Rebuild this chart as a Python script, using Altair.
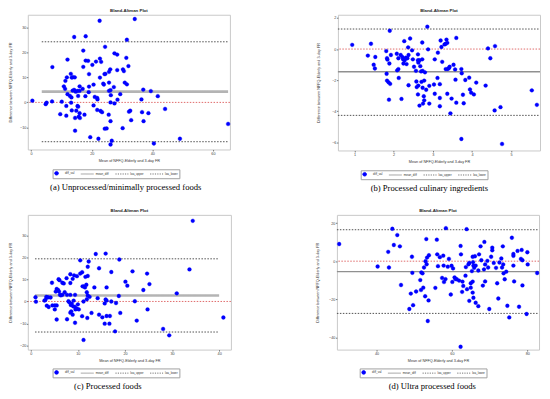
import altair as alt
import pandas as pd

SERIES = ["diff_val", "mean_diff", "loa_upper", "loa_lower"]
X_TITLE = "Mean of NFFQ-Elderly and 3-day FR"
Y_TITLE = "Difference between NFFQ-Elderly and 3-day FR"
PLOT_TITLE = "Bland-Altman Plot"

# ---------------- panel (a) ----------------
a_x = [34.2, 22.6, 14.2, 18.0, 31.6, 24.4, 17.2, 27.5, 28.4, 31.4,
       12.0, 22.7, 18.0, 18.8, 21.4, 23.1, 32.1, 7.0, 17.2, 20.2,
       26.1, 28.4, 30.3, 30.6, 25.7, 24.5, 24.2, 13.1, 19.1, 13.8,
       11.8, 13.4, 14.4, 22.7, 11.3, 30.9, 25.7, 31.6, 23.8, 24.0,
       20.6, 16.0, 10.8, 19.1, 27.3, 11.2, 17.0, 14.2, 13.7, 15.3,
       25.7, 26.2, 37.0, 39.5, 14.7, 16.0, 19.0, 12.0, 29.4, 12.8,
       26.3, 17.9, 15.5, 41.8, 13.3, 21.0, 21.8, 21.9, 28.5, 36.4,
       0.4, 6.9, 10.1, 5.1, 4.8, 13.2, 26.2, 27.5, 20.6, 11.6,
       15.3, 15.5, 44.2, 21.8, 13.4, 14.9, 22.9, 32.7, 32.3, 23.4,
       36.6, 38.7, 9.6, 16.0, 11.6, 17.6, 25.6, 15.7, 14.5, 16.1,
       37.1, 26.2, 33.0, 65.0, 30.2, 24.3, 24.9, 14.5, 19.5, 22.2,
       49.1, 26.6, 40.5, 26.2]
a_y = [33.3, 32.6, 26.1, 26.4, 25.0, 22.2, 20.7, 19.6, 19.1, 17.8,
       17.1, 17.5, 16.7, 16.6, 16.3, 16.2, 14.5, 14.1, 14.2, 15.0,
       13.2, 12.9, 13.2, 12.5, 12.2, 11.4, 11.3, 11.4, 11.3, 10.1,
       10.0, 9.9, 10.0, 9.9, 8.6, 7.9, 7.9, 7.2, 7.5, 7.1,
       7.1, 6.4, 6.4, 6.3, 6.1, 5.4, 5.4, 5.0, 4.7, 4.6,
       4.6, 4.9, 5.1, 4.5, 4.3, 4.6, 4.1, 3.3, 3.3, 2.6,
       2.9, 2.5, 2.6, 2.5, 2.0, 2.2, 1.8, 1.2, 1.1, 1.2,
       0.7, 0.4, 0.3, -0.1, -0.7, -0.1, 0.0, -0.4, -1.2, -1.4,
       -1.4, -1.7, -2.6, -3.0, -3.2, -3.3, -3.4, -3.3, -3.7, -3.9,
       -3.9, -4.3, -4.7, -4.3, -5.3, -4.9, -4.9, -5.7, -6.2, -6.2,
       -7.5, -7.5, -7.1, -8.6, -10.3, -10.5, -10.4, -11.3, -13.9, -14.5,
       -14.5, -15.3, -16.4, -16.8]
a_lines = [4.3, 24.2, -15.7]          # mean_diff, loa_upper, loa_lower
a_span = [3.5, 65.0]
a_xdom, a_ydom = [-1.1, 65.6], [-18.8, 35.0]
a_xt, a_yt = [0, 20, 40, 60], [-10, 0, 10, 20, 30]

# ---------------- panel (b) ----------------
b_x = [0.94, 1.42, 1.34, 1.53, 1.49, 1.52, 1.90, 2.86, 1.81, 1.83,
       1.84, 1.93, 1.89, 1.82, 1.83, 1.87, 1.91, 1.88, 2.08, 2.12,
       2.12, 2.09, 2.13, 2.18, 2.22, 2.24, 2.28, 2.25, 2.27, 2.31,
       2.33, 2.20, 2.37, 2.38, 2.42, 2.35, 2.38, 2.47, 2.49, 2.52,
       2.57, 2.58, 2.62, 2.62, 2.63, 2.66, 2.68, 2.70, 2.63, 2.59,
       2.62, 2.66, 2.71, 2.73, 2.73, 2.74, 2.74, 2.77, 2.78, 2.75,
       2.80, 2.78, 2.83, 2.88, 2.91, 2.91, 3.05, 3.03, 3.05, 3.13,
       3.12, 3.18, 3.20, 3.22, 3.24, 3.18, 3.18, 3.30, 3.33, 3.35,
       3.37, 3.33, 3.41, 3.43, 3.37, 3.38, 3.45, 3.48, 3.53, 3.57,
       3.58, 3.60, 3.60, 3.73, 3.74, 3.77, 3.79, 3.73, 3.83, 3.93,
       3.95, 3.98, 4.05, 4.11, 4.35, 4.41, 4.47, 4.59, 4.58, 4.73,
       4.77, 5.53, 5.66]
b_y = [0.27, 0.34, -0.42, -0.51, -1.01, -1.25, 1.18, 1.44, -0.13, -0.59,
       -0.68, -0.38, -0.93, -1.59, -2.03, -2.14, -2.24, -3.26, -0.30, -0.59,
       -1.29, -1.37, -1.86, -0.38, -0.51, -0.66, -0.72, -0.93, 0.51, -0.55,
       -0.97, -3.21, 0.11, -0.38, 0.68, -0.59, -2.33, -0.08, -0.66, -1.14,
       -1.40, -2.09, -0.34, -0.72, -0.87, -0.72, -1.10, -1.44, -2.35, -2.45,
       -2.92, -3.64, -2.11, 0.42, -0.66, -1.40, -2.49, -3.04, -3.30, -3.51,
       -1.50, -2.03, -2.62, -0.02, -2.37, -3.51, -0.66, -2.28, -2.88, -0.23,
       -1.86, -2.26, 0.55, 0.13, -0.82, -3.15, -3.68, 0.30, 0.34, 0.61,
       0.40, -1.29, -1.23, -1.14, -2.88, -1.29, -4.14, -3.19, -1.01, -1.31,
       -1.97, 0.72, -3.45, -1.29, -1.56, -2.94, -3.49, -5.79, -1.99, -1.84,
       -2.60, -2.81, -2.92, -2.16, -2.35, 0.04, -0.59, 0.19, -3.95, -3.74,
       -6.11, -2.66, -3.59]
b_lines = [-1.46, 1.29, -4.27]
b_span = [0.575, 5.74]
b_xdom, b_ydom = [0.575, 5.74], [-6.53, 2.21]
b_xt, b_yt = [1, 2, 3, 4, 5], [-6, -4, -2, 0, 2]

# ---------------- panel (c) ----------------
c_x = [34.4, 13.8, 15.9, 10.5, 12.3, 18.8, 12.1, 33.7, 14.5, 17.1,
       10.9, 10.5, 21.6, 24.7, 8.4, 9.2, 9.8, 12.1, 11.6, 8.9,
       5.9, 6.1, 7.6, 4.5, 6.7, 7.0, 8.4, 20.1, 25.2, 11.8,
       20.5, 11.0, 11.3, 13.5, 16.1, 11.5, 5.5, 5.8, 5.3, 6.0,
       7.2, 11.9, 23.9, 9.4, 6.2, 6.7, 7.7, 8.4, 31.0, 3.3,
       3.4, 3.7, 4.2, 1.0, 6.4, 12.1, 12.5, 11.9, 14.2, 18.7,
       3.1, 2.9, 1.1, 8.0, 8.2, 9.1, 11.2, 15.9, 16.1, 17.1,
       22.1, 18.1, 8.7, 8.5, 10.0, 15.7, 3.4, 3.8, 4.6, 5.1,
       5.5, 9.0, 9.4, 9.8, 10.2, 9.5, 8.6, 5.1, 24.8, 8.4,
       8.9, 14.5, 12.9, 19.0, 10.9, 16.1, 16.8, 15.2, 12.0, 5.5,
       7.7, 22.5, 40.9, 9.4, 15.7, 16.7, 17.9, 28.1, 29.4, 11.2]
c_y = [36.7, 21.6, 21.8, 18.7, 18.2, 19.1, 15.8, 14.6, 15.1, 13.4,
       13.3, 12.7, 13.7, 12.7, 12.4, 11.9, 11.5, 11.6, 11.2, 10.3,
       10.1, 9.7, 10.6, 8.5, 8.5, 8.2, 8.4, 9.0, 7.9, 7.6,
       7.2, 6.9, 6.9, 6.4, 6.4, 6.4, 5.7, 5.2, 4.5, 4.5,
       4.2, 4.2, 5.2, 3.0, 3.0, 3.0, 3.0, 3.0, 3.7, 2.1,
       1.8, 1.9, 1.8, 1.9, 2.8, 2.7, 2.1, 1.0, 1.5, 2.5,
       0.7, 0.4, -0.1, 0.1, -0.4, 0.4, 0.0, 0.9, 0.4, 0.0,
       0.1, -0.7, -1.0, -1.6, -1.3, -0.9, -1.9, -2.5, -1.8, -1.8,
       -1.8, -2.2, -2.5, -3.3, -3.6, -3.6, -4.5, -3.6, -3.6, -5.1,
       -6.0, -6.0, -5.2, -5.2, -6.7, -6.6, -6.6, -7.2, -7.5, -8.2,
       -8.1, -8.7, -7.3, -9.7, -10.1, -10.1, -13.6, -12.5, -15.4, -17.5]
c_lines = [2.7, 19.4, -13.9]
c_span = [0.9, 40.0]
c_xdom, c_ydom = [-0.63, 42.5], [-21.9, 39.4]
c_xt, c_yt = [0, 10, 20, 30, 40], [-20, -10, 0, 10, 20, 30]

# ---------------- panel (d) ----------------
d_x = [30.1, 40.3, 43.1, 43.3, 44.2, 44.6, 45.5, 46.2, 46.5, 48.7,
       49.1, 49.4, 49.5, 49.7, 50.5, 51.6, 51.8, 51.9, 52.2, 52.4,
       52.6, 52.9, 53.2, 53.0, 53.3, 53.4, 53.6, 53.8, 53.9, 55.6,
       56.0, 56.1, 56.3, 56.8, 57.4, 57.7, 57.8, 57.9, 58.3, 58.4,
       58.9, 59.2, 59.7, 59.9, 60.1, 60.3, 60.7, 60.9, 61.3, 61.9,
       62.3, 62.3, 62.4, 62.7, 62.8, 63.0, 63.6, 63.7, 63.9, 64.0,
       64.4, 64.6, 64.6, 65.0, 65.0, 65.5, 65.3, 65.6, 65.7, 65.5,
       65.5, 65.7, 65.9, 66.3, 66.3, 66.1, 67.0, 67.0, 67.2, 67.6,
       67.8, 68.2, 68.5, 68.6, 68.8, 68.8, 69.4, 69.6, 69.9, 70.4,
       70.7, 70.7, 71.1, 71.7, 72.0, 72.3, 72.6, 73.1, 73.3, 73.5,
       73.6, 73.7, 74.0, 74.4, 74.7, 75.2, 75.9, 76.3, 76.3, 76.3,
       76.5, 77.4, 77.8, 78.3, 78.5, 78.7, 78.7, 79.8, 80.0, 80.1,
       82.6]
d_y = [9.0, -2.8, 4.9, -3.3, 17.0, 8.5, 13.7, 7.8, -12.5, -25.1,
       -17.0, 2.3, -6.1, -23.1, -15.9, -9.9, -15.1, -5.9, -6.4, -13.9,
       -3.3, -18.4, 11.6, 0.0, -1.6, 1.9, -31.4, -20.6, 3.1, -14.0,
       11.3, 3.6, -2.6, 2.1, -8.8, 2.9, -2.3, -10.9, -9.4, 17.3,
       -2.9, 1.2, -17.5, -2.4, -10.9, -3.8, -8.5, -9.4, -9.5, -10.2,
       -44.9, 8.0, 3.6, -16.1, -10.7, -13.0, -7.6, -3.1, 16.8, -14.7,
       -1.6, -0.9, -20.8, -11.6, -13.9, 2.3, -5.2, -0.5, -2.3, -10.7,
       -16.5, -19.2, -3.5, -21.8, -2.3, 2.6, -4.9, -23.6, 3.6, 7.8,
       0.5, -12.8, -4.3, 10.1, -1.7, -10.6, 0.2, -3.3, -25.1, 2.3,
       7.1, 5.7, -0.9, -3.5, -11.6, -19.6, -0.7, 1.4, -3.3, 7.8,
       -1.7, -6.4, -9.5, -5.5, -23.4, -29.5, 12.3, 3.8, 2.8, -2.3,
       -10.6, 5.4, -23.9, 1.2, 5.9, 0.5, -12.7, -27.7, 4.7, -1.7,
       -6.2]
d_lines = [-5.5, 16.5, -27.4]
d_span = [29.5, 83.1]
d_xdom, d_ydom = [29.5, 83.1], [-46.4, 24.3]
d_xt, d_yt = [40, 60, 80], [-40, -20, 0, 20]

CAPTIONS = ["(a) Unprocessed/minimally processed foods",
            "(b) Processed culinary ingredients",
            "(c) Processed foods",
            "(d) Ultra processed foods"]

SANS = "Liberation Sans"
SERIF = "Liberation Serif"
COLORS = ["#0000ff", "#8c8c8c", "#505050", "#505050"]
SHAPES = ["circle", "M-3.5,0L3.5,0", "M-3.5,0L3.5,0", "M-3.5,0L3.5,0"]
DASHES = [[1, 0], [1, 0], [1.2, 1.2], [1.2, 1.2]]

INDEP = dict(fill="independent", stroke="independent",
             shape="independent", strokeDash="independent")

AX_LBL = 3.8
AX_TTL = 3.8


def panel(xs, ys, lines, span, xdom, ydom, xt, yt, caption, w, h,
          mean_color, mean_width, yext, ytp, leg_x, leg_y, cap_dx):
    assert len(xs) == len(ys)
    pts = pd.DataFrame({"x": xs, "y": ys, "series": "diff_val"})
    xs_ = alt.Scale(domain=xdom, nice=False, zero=False)
    ys_ = alt.Scale(domain=ydom, nice=False, zero=False)
    xax = alt.Axis(values=xt, title=X_TITLE, titleFontSize=AX_TTL,
                   labelFontSize=AX_LBL, tickSize=1.5, labelPadding=0.5,
                   titlePadding=3, grid=False, domain=False, labelFlush=False,
                   labelOverlap=False, titleFontWeight="normal")
    yax = alt.Axis(values=yt, title=Y_TITLE, titleFontSize=AX_TTL,
                   labelFontSize=AX_LBL, tickSize=1.5, labelPadding=0.5,
                   titlePadding=ytp, grid=False, domain=False, labelFlush=False,
                   labelOverlap=False, minExtent=yext, maxExtent=yext,
                   titleFontWeight="normal")
    leg = alt.Legend(title=None, orient="none", legendX=leg_x, legendY=leg_y,
                     direction="horizontal", columns=4, symbolSize=14,
                     symbolStrokeWidth=0.8, labelFontSize=3, labelFont=SANS,
                     labelColor="#333333", labelOffset=6, columnPadding=4,
                     padding=1.5, strokeColor="#a0a0a0", fillColor="white",
                     rowPadding=0)
    sc = lambda rng: alt.Scale(domain=SERIES, range=rng)

    def rule(val, color, width, dash):
        df = pd.DataFrame({"x": [span[0]], "x2": [span[1]], "y": [val]})
        return alt.Chart(df).mark_rule(color=color, strokeWidth=width,
                                       strokeDash=dash).encode(
            x=alt.X("x:Q", scale=xs_, axis=xax), x2="x2:Q",
            y=alt.Y("y:Q", scale=ys_, axis=yax))

    zero = alt.Chart(pd.DataFrame({"y": [0]})).mark_rule(
        color="#e06a6a", strokeWidth=1, strokeDash=[1.5, 1.5]).encode(
        y=alt.Y("y:Q", scale=ys_, axis=yax))
    mean = rule(lines[0], mean_color, mean_width, [1, 0])
    up = rule(lines[1], "#505050", 1, [1.5, 1.5])
    lo = rule(lines[2], "#505050", 1, [1.5, 1.5])
    points = alt.Chart(pts).mark_point(filled=True, size=15, strokeWidth=0.3,
                                       opacity=1).encode(
        x=alt.X("x:Q", scale=xs_, axis=xax),
        y=alt.Y("y:Q", scale=ys_, axis=yax),
        fill=alt.Fill("series:N", scale=sc(COLORS), legend=leg),
        stroke=alt.Stroke("series:N", scale=sc(COLORS), legend=leg),
        shape=alt.Shape("series:N", scale=sc(SHAPES), legend=leg),
        strokeDash=alt.StrokeDash("series:N", scale=sc(DASHES), legend=leg),
    )
    layer = alt.layer(zero, up, lo, mean, points).properties(
        width=w, height=h,
        title=alt.Title(PLOT_TITLE, fontSize=4.4, fontWeight="bold", font=SANS,
                        color="#222222", offset=1, frame="group", anchor="middle"))
    wrap = alt.vconcat(layer).properties(
        title=alt.Title(caption, orient="bottom", font=SERIF, fontSize=8.7,
                        fontWeight="normal", color="#000000", offset=4,
                        dx=cap_dx, anchor="middle")
    ).resolve_scale(**INDEP)
    return wrap


pa = panel(a_x, a_y, a_lines, a_span, a_xdom, a_ydom, a_xt, a_yt, CAPTIONS[0],
           204, 136, "#b4b4b4", 2.6, 12, 3, 25, 156, 6)
pb = panel(b_x, b_y, b_lines, b_span, b_xdom, b_ydom, b_xt, b_yt, CAPTIONS[1],
           204, 137, "#909090", 1.3, 15, 2.1, 23, 157, 0.5)
pc = panel(c_x, c_y, c_lines, c_span, c_xdom, c_ydom, c_xt, c_yt, CAPTIONS[2],
           205, 136, "#b4b4b4", 2.6, 12, 3, 25, 155, -12.5)
pd_ = panel(d_x, d_y, d_lines, d_span, d_xdom, d_ydom, d_xt, d_yt, CAPTIONS[3],
            204, 136, "#909090", 1.3, 15, 2.1, 23, 155, 4.5)

row1 = alt.hconcat(pa, pb, spacing=85).resolve_scale(**INDEP)
row2 = alt.hconcat(pc, pd_, spacing=84).resolve_scale(**INDEP)
chart = alt.vconcat(row1, row2, spacing=15).resolve_scale(**INDEP).properties(
    padding={"top": -2, "left": 0, "right": 0, "bottom": 0}
).configure_view(stroke="#c8c8c8", strokeWidth=1).configure_axis(
    labelFont=SANS, titleFont=SANS, labelColor="#444444", titleColor="#333333",
    tickColor="#777777"
)

chart.save("out.html", embed_options={"renderer": "svg", "actions": False})
